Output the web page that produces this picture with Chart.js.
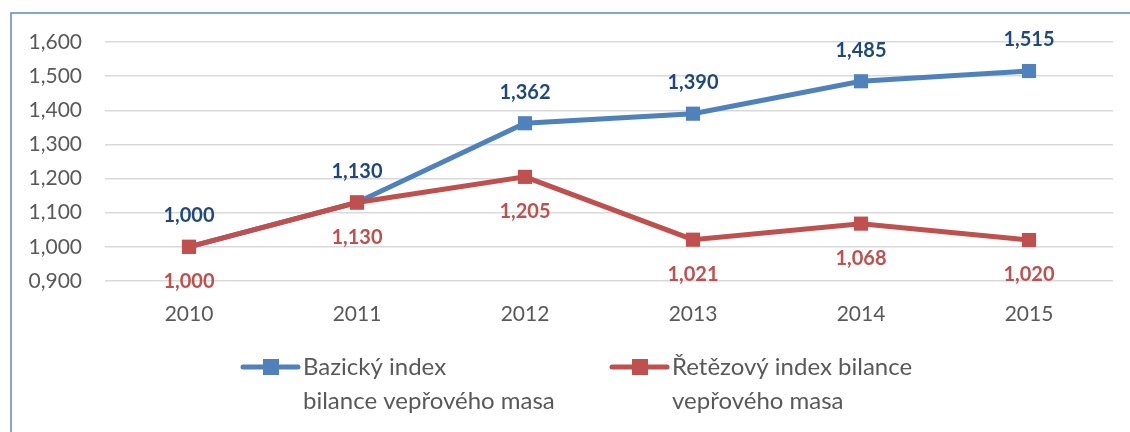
<!DOCTYPE html>
<html>
<head>
<meta charset="utf-8">
<script src="https://cdn.jsdelivr.net/npm/chart.js@4"></script>
<style>
  html, body { margin: 0; padding: 0; background: #fff; }
  #c { display: block; }
</style>
</head>
<body>
<canvas id="c" width="1130" height="432"></canvas>
<script>
const years = ['2010', '2011', '2012', '2013', '2014', '2015'];
const bazicky = [1.000, 1.130, 1.362, 1.390, 1.485, 1.515];
const retezovy = [1.000, 1.130, 1.205, 1.021, 1.068, 1.020];
const bazickyName = ['Bazický index', 'bilance vepřového masa'];
const retezovyName = ['Řetězový index bilance', 'vepřového masa'];
const yMin = 0.9, yMax = 1.6, yStep = 0.1;

const BLUE = '#4F81BD', RED = '#C0504D';
const FONT = 'Lato, "Open Sans", sans-serif';
const fmt = v => v.toFixed(3).replace('.', ',');

// frame of the original chart box (cut off right and bottom)
const framePlugin = {
  id: 'frame',
  beforeDraw(chart) {
    const ctx = chart.ctx;
    ctx.save();
    ctx.fillStyle = '#fff';
    ctx.fillRect(0, 0, chart.width, chart.height);
    ctx.strokeStyle = '#5B8BC8';
    ctx.lineWidth = 1.5;
    ctx.beginPath();
    ctx.moveTo(11, chart.height);
    ctx.lineTo(11, 13);
    ctx.lineTo(chart.width, 13);
    ctx.stroke();
    ctx.restore();
  }
};

// value labels: blue above, red below
const labelPlugin = {
  id: 'valueLabels',
  afterDatasetsDraw(chart) {
    const ctx = chart.ctx;
    ctx.save();
    ctx.font = 'bold 20px ' + FONT;
    ctx.textAlign = 'center';
    ctx.textBaseline = 'middle';
    chart.data.datasets.forEach((ds, i) => {
      const meta = chart.getDatasetMeta(i);
      meta.data.forEach((pt, j) => {
        ctx.fillStyle = ds.labelColor;
        ctx.fillText(fmt(ds.data[j]), pt.x, pt.y + ds.labelOffset);
      });
    });
    ctx.restore();
  }
};

// two-line legend under the plot
const legendPlugin = {
  id: 'twoLineLegend',
  afterDraw(chart) {
    const ctx = chart.ctx;
    const items = [
      { ds: chart.data.datasets[1], x: 243 },
      { ds: chart.data.datasets[0], x: 612 }
    ];
    ctx.save();
    items.forEach(it => {
      const y = 367;
      ctx.strokeStyle = it.ds.borderColor;
      ctx.lineWidth = 5;
      ctx.lineCap = 'round';
      ctx.beginPath();
      ctx.moveTo(it.x, y);
      ctx.lineTo(it.x + 55, y);
      ctx.stroke();
      ctx.fillStyle = it.ds.borderColor;
      ctx.fillRect(it.x + 20, y - 8, 16, 16);
      ctx.fillStyle = '#595959';
      ctx.font = '24px ' + FONT;
      ctx.textAlign = 'left';
      ctx.textBaseline = 'middle';
      it.ds.legendLines.forEach((line, k) => {
        ctx.fillText(line, it.x + 60, y + k * 34);
      });
    });
    ctx.restore();
  }
};

new Chart(document.getElementById('c'), {
  type: 'line',
  data: {
    labels: years,
    datasets: [
      {
        label: retezovyName.join(' '),
        legendLines: retezovyName,
        data: retezovy,
        borderColor: RED,
        backgroundColor: RED,
        labelColor: RED,
        labelOffset: 35,
        order: 0
      },
      {
        label: bazickyName.join(' '),
        legendLines: bazickyName,
        data: bazicky,
        borderColor: BLUE,
        backgroundColor: BLUE,
        labelColor: '#1F497D',
        labelOffset: -31,
        order: 1
      }
    ]
  },
  options: {
    responsive: false,
    animation: false,
    devicePixelRatio: 1,
    layout: { padding: { left: 20, top: 42, right: 17, bottom: 101 } },
    elements: {
      line: { borderWidth: 5, tension: 0 },
      point: { pointStyle: 'rect', radius: 10, hoverRadius: 10, borderWidth: 0 }
    },
    plugins: {
      legend: { display: false },
      tooltip: { enabled: false }
    },
    scales: {
      x: {
        offset: true,
        grid: { display: false, drawTicks: false },
        border: { display: false },
        ticks: { color: '#595959', font: { family: FONT, size: 21 }, padding: 21 },
        afterFit: s => { s.height = 50; }
      },
      y: {
        min: yMin,
        max: yMax,
        grid: { color: '#D9D9D9', lineWidth: 1.5, drawTicks: false },
        border: { display: false },
        ticks: {
          stepSize: yStep,
          color: '#595959',
          font: { family: FONT, size: 21 },
          padding: 23,
          callback: v => fmt(v)
        },
        afterFit: s => { s.width = 85; }
      }
    }
  },
  plugins: [framePlugin, labelPlugin, legendPlugin]
});
</script>
</body>
</html>
